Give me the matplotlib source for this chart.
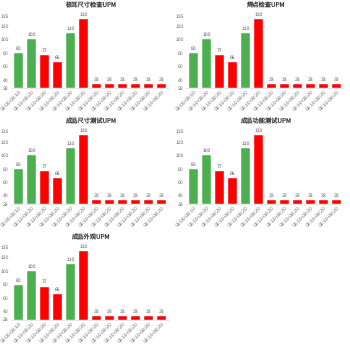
import matplotlib
matplotlib.use("Agg")
import matplotlib.pyplot as plt

plt.rcParams['font.family'] = ['Liberation Sans', 'Noto Sans CJK SC']
plt.rcParams['text.hinting'] = 'no_hinting'
plt.rcParams['text.hinting_factor'] = 1

titles = ["极耳尺寸检查UPM", "焊点检查UPM", "成品尺寸测试UPM", "成品功能测试UPM", "成品外观UPM"]
periods = ["08:00-08:10"] + ["08:10-08:20"] * 11
values = [80, 100, 77, 66, 110, 130, 33, 33, 33, 33, 33, 33]
ok = [True, True, False, False, True, False, False, False, False, False, False, False]
yticks = [28, 40, 60, 80, 100, 120, 135]

fig = plt.figure(figsize=(3.5, 3.5), dpi=100)

for k, title in enumerate(titles):
    row, col = divmod(k, 2)
    left = 0.031 + col * 0.50
    bottom = 0.749 - row * 0.331
    ax = fig.add_axes([left, bottom, 0.453, 0.206])
    x = range(len(values))
    colors = ['#4caf50' if g else '#ff0000' for g in ok]
    ax.bar(x, [v - 28 for v in values], bottom=28, width=0.7, color=colors,
           edgecolor='white', linewidth=0.3)
    for i, v in enumerate(values):
        ax.text(i, v + 3, str(v), ha='center', va='bottom', fontsize=3.7,
                color='#555555', clip_on=False)
    ax.set_ylim(28, 135)
    ax.set_xlim(-0.6, len(values) - 0.4)
    ax.set_yticks(yticks)
    ax.set_yticklabels([str(t) for t in yticks], fontsize=3.6, color='#666666')
    ax.set_xticks(list(x))
    ax.set_xticklabels(periods, rotation=45, ha='right', rotation_mode='anchor',
                       fontsize=3.3, color='#666666')
    ax.tick_params(length=0, pad=1.5)
    for s in ['top', 'right', 'left']:
        ax.spines[s].set_visible(False)
    ax.spines['bottom'].set_color('#dddddd')
    ax.spines['bottom'].set_linewidth(0.5)
    ax.set_title(title, fontsize=4.5, color='#444444', pad=6,
                 family=['Noto Sans CJK SC'])

fig.savefig("out.png", dpi=100)
